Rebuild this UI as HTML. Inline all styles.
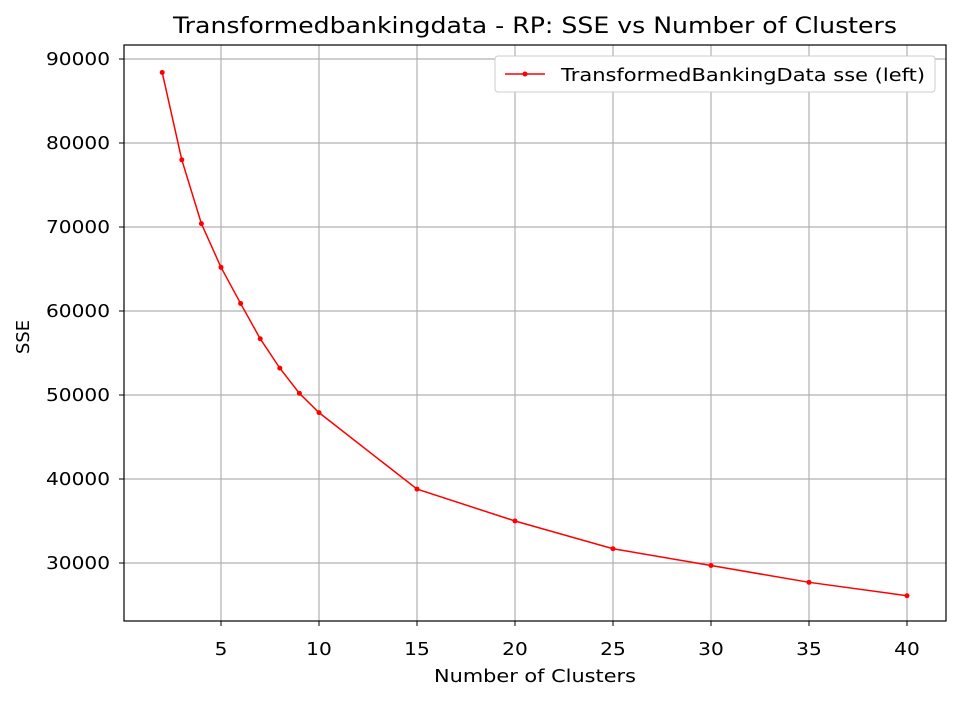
<!DOCTYPE html>
<html><head><meta charset="utf-8"><style>
body{margin:0;background:#fff;width:964px;height:700px;overflow:hidden}
svg{font-family:"DejaVu Sans","Liberation Sans",sans-serif}
</style></head><body>
<svg id="chart" width="964" height="700">
<text x="535" y="33" text-anchor="middle" font-size="22" textLength="724" lengthAdjust="spacingAndGlyphs">Transformedbankingdata - RP: SSE vs Number of Clusters</text>
<text x="535" y="682" text-anchor="middle" font-size="18" textLength="202" lengthAdjust="spacingAndGlyphs">Number of Clusters</text>
<text x="29" y="337" text-anchor="middle" font-size="18" textLength="34" lengthAdjust="spacingAndGlyphs" transform="rotate(-90 29 337)">SSE</text>
<g id="grid"></g><g id="ticks"></g><g id="series"></g>
<rect x="124" y="45" width="822" height="576" fill="none" stroke="#000" stroke-width="1.2"/>
<g>
<rect x="495" y="56" width="440" height="36" rx="3" fill="#fff" stroke="#ccc"/>
<line x1="505" y1="74" x2="545" y2="74" stroke="red" stroke-width="1.5"/>
<circle cx="525" cy="74" r="2.5" fill="red"/>
<text x="561" y="81" font-size="18" textLength="364" lengthAdjust="spacingAndGlyphs">TransformedBankingData sse (left)</text>
</g>
</svg>
<script>
const clusters=[2,3,4,5,6,7,8,9,10,15,20,25,30,35,40];
const sse=[88400,78000,70400,65200,60900,56700,53200,50200,47900,38800,35000,31700,29700,27700,26100];
const xTicks=[5,10,15,20,25,30,35,40];
const yTicks=[30000,40000,50000,60000,70000,80000,90000];
const NS="http://www.w3.org/2000/svg";
const xs=v=>123+19.6*v;
const ys=v=>563-(v-30000)*0.0084;
const grid=document.getElementById('grid'),ticks=document.getElementById('ticks'),ser=document.getElementById('series');
function mk(t,a,p){const e=document.createElementNS(NS,t);for(const k in a)e.setAttribute(k,a[k]);p.appendChild(e);return e;}
xTicks.forEach(v=>{const x=xs(v);
const g=mk('line',{x1:x,x2:x,y1:45,y2:621,stroke:'#b0b0b0','stroke-width':1.2},grid);


mk('line',{x1:x,x2:x,y1:621,y2:626,stroke:'#000'},ticks);
const s=String(v);
const t=mk('text',{x:x,y:655,'text-anchor':'middle','font-size':18,textLength:12.8*s.length,lengthAdjust:'spacingAndGlyphs'},ticks);t.textContent=s;

});
yTicks.forEach(v=>{const y=ys(v);
const g=mk('line',{x1:124,x2:946,y1:y,y2:y,stroke:'#b0b0b0','stroke-width':1.2},grid);


mk('line',{x1:119,x2:124,y1:y,y2:y,stroke:'#000'},ticks);
const s=String(v);
const t=mk('text',{x:110,y:y+6,'text-anchor':'end','font-size':18,textLength:12.8*s.length,lengthAdjust:'spacingAndGlyphs'},ticks);t.textContent=s;

});
const pl=mk('polyline',{points:clusters.map((c,i)=>xs(c)+','+ys(sse[i])).join(' '),fill:'none',stroke:'red','stroke-width':1.5},ser);


clusters.forEach((c,i)=>{const p=mk('circle',{cx:xs(c),cy:ys(sse[i]),r:2.5,fill:'red'},ser);

});
</script>
</body></html>
